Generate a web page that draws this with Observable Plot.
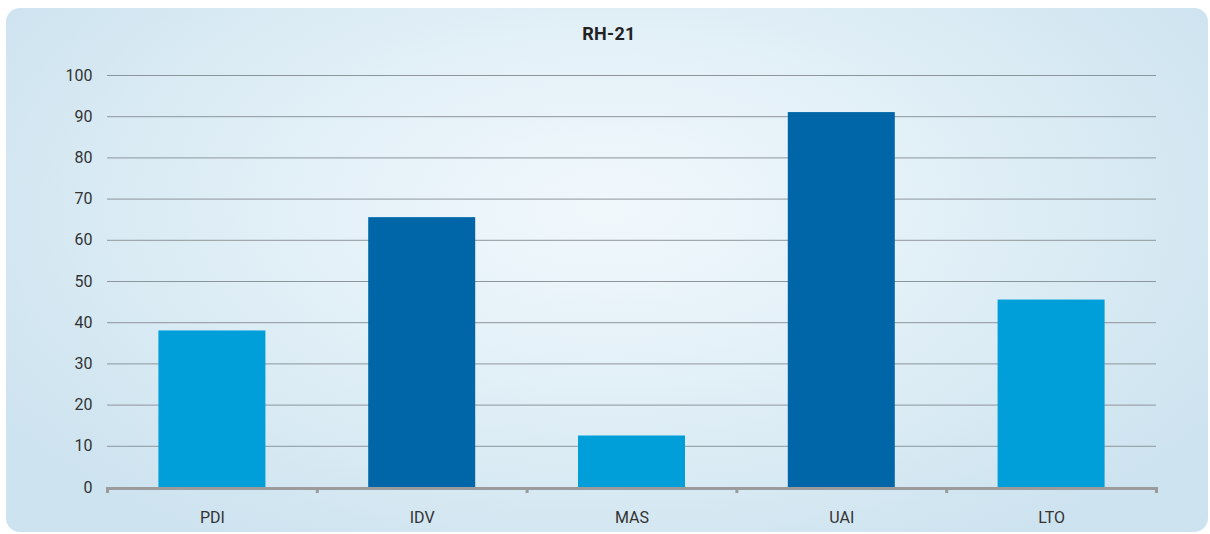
<!DOCTYPE html>
<html>
<head>
<meta charset="utf-8">
<script src="https://cdn.jsdelivr.net/npm/d3@7"></script>
<script src="https://cdn.jsdelivr.net/npm/@observablehq/plot@0.6"></script>
<style>
  html, body { margin: 0; padding: 0; background: #fff; }
  body { width: 1210px; height: 534px; position: relative; overflow: hidden; font-family: Roboto, "Noto Sans", sans-serif; }
  #panel {
    position: absolute; left: 6px; top: 8px; right: 2px; bottom: 2px;
    border-radius: 14px;
    background: radial-gradient(ellipse 60% 75% at 50% 38%, #f1f8fc 0%, #e2f0f7 45%, #cde3ef 100%);
  }
  #chart { position: absolute; left: 0; top: 0; width: 1210px; }
  #title { height: 55px; box-sizing: border-box; padding-top: 25px; text-align: center; font-weight: 700; font-size: 18px; line-height: 17px; color: #222; letter-spacing: 0.3px; padding-left: 8px; }
</style>
</head>
<body>
<div id="panel"></div>
<div id="chart"><div id="title">RH-21</div></div>
<script>
const categories = ["PDI", "IDV", "MAS", "UAI", "LTO"];
const values = [38, 65.5, 12.5, 91, 45.5];
const barColors = ["#009fda", "#0066a8", "#009fda", "#0066a8", "#009fda"];
const yTicks = [0, 10, 20, 30, 40, 50, 60, 70, 80, 90, 100];

const data = categories.map((c, i) => ({i, category: c, value: values[i], color: barColors[i]}));
const centers = categories.map((c, i) => i + 0.5);
const bounds = d3.range(0, categories.length + 1);

const plot = Plot.plot({
  width: 1210,
  height: 479,
  marginTop: 20,
  marginBottom: 47,
  marginLeft: 107,
  marginRight: 54,
  style: {background: "transparent", color: "#333", fontFamily: "Roboto, 'Noto Sans', sans-serif", overflow: "visible"},
  x: {type: "linear", domain: [0, categories.length], axis: null},
  y: {domain: [0, 100], axis: null},
  color: {type: "identity"},
  marks: [
    Plot.gridY(yTicks.filter(d => d > 0), {stroke: "#8e969c", strokeOpacity: 1, strokeWidth: 1}),
    Plot.rectY(data, {x1: d => d.i + 0.245, x2: d => d.i + 0.755, y: "value", fill: "color"}),
    Plot.ruleY([0], {stroke: "#9b9b9b", strokeWidth: 3, dy: 1}),
    Plot.axisX({ticks: bounds, tickSize: 6, tickFormat: () => "", stroke: "#9b9b9b", strokeWidth: 3, label: null}),
    Plot.axisX({ticks: centers, tickSize: 0, tickPadding: 24, tickFormat: d => categories[Math.floor(d)], fontSize: 16, fill: "#333", label: null}),
    Plot.axisY({ticks: yTicks, tickSize: 0, tickPadding: 15, fontSize: 16, fill: "#333", label: null})
  ]
});
document.getElementById("chart").appendChild(plot);
</script>
</body>
</html>
